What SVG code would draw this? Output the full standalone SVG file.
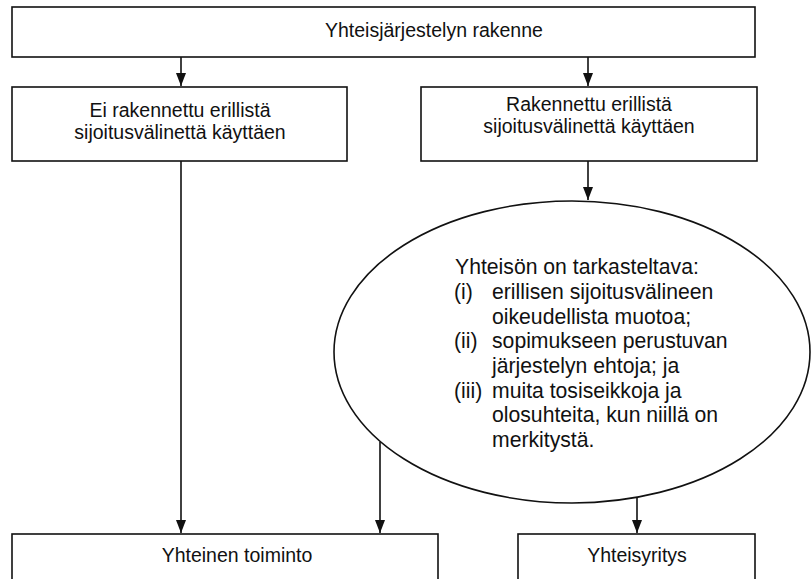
<svg xmlns="http://www.w3.org/2000/svg" width="812" height="579" viewBox="0 0 812 579">
<defs>
<style>
.box{fill:#fff;stroke:#111;stroke-width:1.6}
.t{font-family:"Liberation Sans",Arial,sans-serif;font-size:19.5px;fill:#111}
.e{font-size:21.2px}
.c{text-anchor:middle}
.ln{stroke:#111;stroke-width:1.6;fill:none}
</style>
<marker id="ah" markerWidth="13" markerHeight="10" refX="13" refY="5" orient="auto" markerUnits="userSpaceOnUse" viewBox="0 0 13 10">
<path d="M0,0 L13,5 L0,10 Z" fill="#111"/>
</marker>
</defs>
<rect width="812" height="579" fill="#fff"/>
<g id="connectors">
<line class="ln" x1="181" y1="57" x2="181" y2="86" marker-end="url(#ah)"/>
<line class="ln" x1="588" y1="57" x2="588" y2="86" marker-end="url(#ah)"/>
<line class="ln" x1="588" y1="161" x2="588" y2="200" marker-end="url(#ah)"/>
<line class="ln" x1="181" y1="161" x2="181" y2="533" marker-end="url(#ah)"/>
<line class="ln" x1="380" y1="442" x2="380" y2="533" marker-end="url(#ah)"/>
<line class="ln" x1="637" y1="498" x2="637" y2="533" marker-end="url(#ah)"/>
</g>
<g id="top">
<rect class="box" x="12" y="7" width="743" height="50"/>
<text class="t" x="325" y="37" font-size="21">Yhteisjärjestelyn rakenne</text>
</g>
<g id="left">
<rect class="box" x="12" y="87" width="335" height="74"/>
<text class="t c" x="180" y="117">Ei rakennettu erillistä</text>
<text class="t c" x="180" y="139">sijoitusvälinettä käyttäen</text>
</g>
<g id="right">
<rect class="box" x="421" y="87" width="336" height="74"/>
<text class="t c" x="589" y="111">Rakennettu erillistä</text>
<text class="t c" x="589" y="133">sijoitusvälinettä käyttäen</text>
</g>
<g id="ellipse">
<ellipse class="box" cx="572" cy="352" rx="238" ry="151"/>
<text class="t e" x="455" y="274">Yhteisön on tarkasteltava:</text>
<text class="t e" x="454" y="299">(i)</text>
<text class="t e" x="492" y="299">erillisen sijoitusvälineen</text>
<text class="t e" x="492" y="324">oikeudellista muotoa;</text>
<text class="t e" x="454" y="348">(ii)</text>
<text class="t e" x="492" y="348">sopimukseen perustuvan</text>
<text class="t e" x="492" y="373">järjestelyn ehtoja; ja</text>
<text class="t e" x="454" y="398">(iii)</text>
<text class="t e" x="492" y="398">muita tosiseikkoja ja</text>
<text class="t e" x="492" y="422">olosuhteita, kun niillä on</text>
<text class="t e" x="492" y="447">merkitystä.</text>
</g>
<g id="bottomleft">
<rect class="box" x="12" y="534" width="426" height="60"/>
<text class="t c" x="237" y="562">Yhteinen toiminto</text>
</g>
<g id="bottomright">
<rect class="box" x="518" y="534" width="237" height="60"/>
<text class="t c" x="637" y="562">Yhteisyritys</text>
</g>
</svg>
